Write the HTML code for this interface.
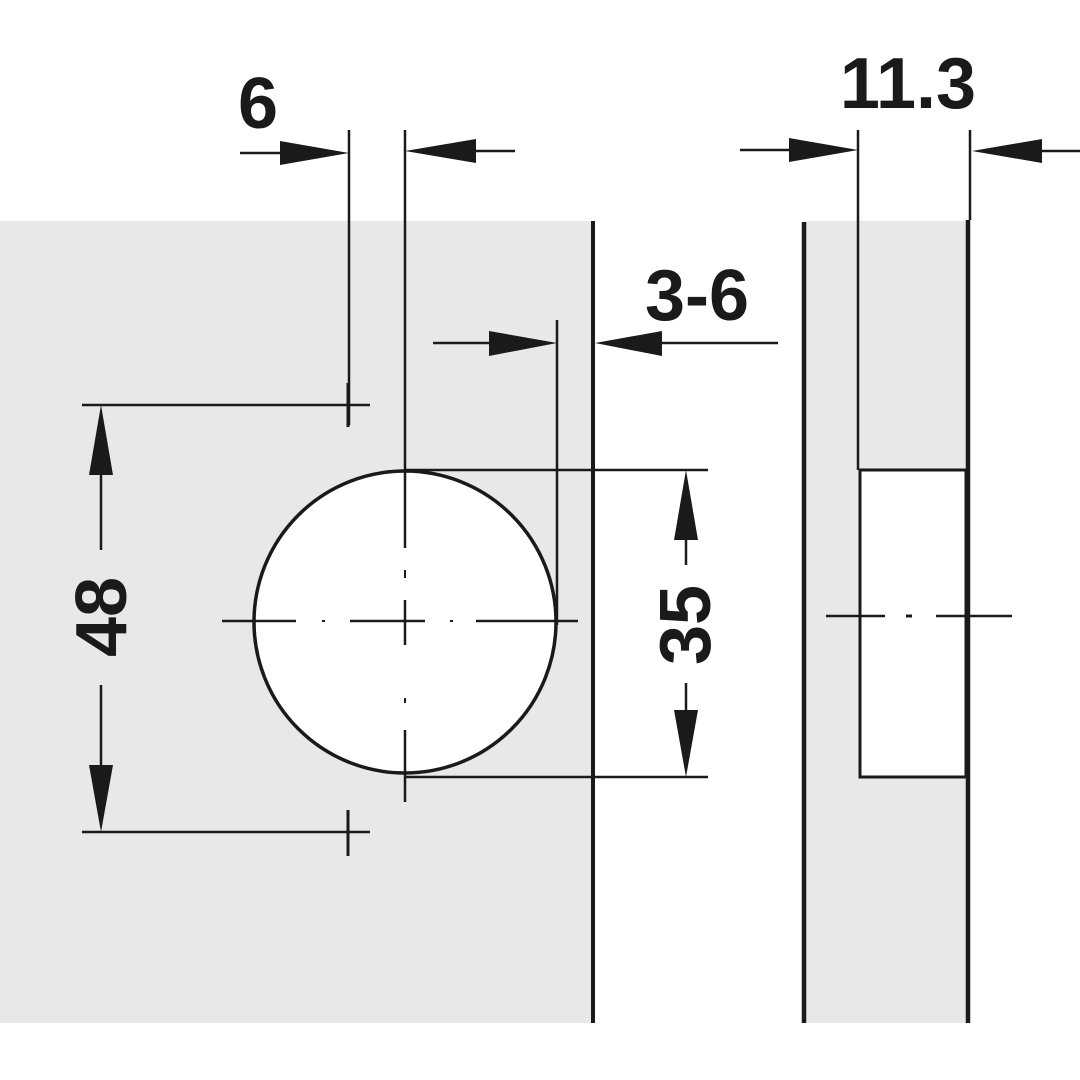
<!DOCTYPE html>
<html><head><meta charset="utf-8"><style>
html,body{margin:0;padding:0;background:#fff;}
svg{display:block}
text{font-family:"Liberation Sans",sans-serif;font-weight:bold;fill:#1a1a1a}
</style></head><body>
<svg width="1080" height="1080" viewBox="0 0 1080 1080" xmlns="http://www.w3.org/2000/svg">
<rect x="0" y="221" width="591" height="802" fill="#e8e8e8"/>
<rect x="805" y="221" width="163" height="802" fill="#e8e8e8"/>
<rect x="860" y="470" width="106" height="307" fill="#fff" stroke="#1a1a1a" stroke-width="3"/>
<circle cx="405" cy="622" r="151" fill="#fff" stroke="#1a1a1a" stroke-width="3.5"/>
<g stroke="#1a1a1a" fill="none">
<line x1="593" y1="221" x2="593" y2="1023" stroke-width="4"/>
<line x1="804" y1="222" x2="804" y2="1023" stroke-width="4.5"/>
<line x1="968" y1="220" x2="968" y2="1023" stroke-width="4.5"/>
<line x1="349" y1="130" x2="349" y2="425" stroke-width="2.5"/>
<line x1="405" y1="130" x2="405" y2="548" stroke-width="2.5"/>
<line x1="405" y1="730" x2="405" y2="802" stroke-width="2.5"/>
<line x1="405" y1="570" x2="405" y2="578" stroke-width="2"/>
<line x1="405" y1="600" x2="405" y2="645" stroke-width="2.5"/>
<line x1="405" y1="698" x2="405" y2="703" stroke-width="2"/>
<line x1="557" y1="320" x2="557" y2="625" stroke-width="2.5"/>
<line x1="858" y1="130" x2="858" y2="470" stroke-width="2.5"/>
<line x1="970" y1="130" x2="970" y2="220" stroke-width="2.5"/>
<line x1="405" y1="470" x2="708" y2="470" stroke-width="2.5"/>
<line x1="405" y1="777" x2="708" y2="777" stroke-width="2.5"/>
<line x1="82" y1="405" x2="370" y2="405" stroke-width="2.5"/>
<line x1="348" y1="383" x2="348" y2="427" stroke-width="3"/>
<line x1="82" y1="832" x2="370" y2="832" stroke-width="2.5"/>
<line x1="348" y1="810" x2="348" y2="856" stroke-width="3"/>
<line x1="222" y1="621" x2="296" y2="621" stroke-width="2.5"/>
<line x1="322" y1="621" x2="325" y2="621" stroke-width="2"/>
<line x1="350" y1="621" x2="425" y2="621" stroke-width="2.5"/>
<line x1="450" y1="621" x2="453" y2="621" stroke-width="2"/>
<line x1="476" y1="621" x2="578" y2="621" stroke-width="2.5"/>
<line x1="826" y1="616" x2="885" y2="616" stroke-width="2.5"/>
<line x1="906" y1="616" x2="912" y2="616" stroke-width="3"/>
<line x1="936" y1="616" x2="1012" y2="616" stroke-width="2.5"/>
<line x1="240" y1="153" x2="290" y2="153" stroke-width="2.5"/>
<line x1="465" y1="151" x2="515" y2="151" stroke-width="2.5"/>
<line x1="433" y1="343" x2="500" y2="343" stroke-width="2.5"/>
<line x1="650" y1="343" x2="778" y2="343" stroke-width="2.5"/>
<line x1="740" y1="150" x2="800" y2="150" stroke-width="2.5"/>
<line x1="1030" y1="151" x2="1080" y2="151" stroke-width="2.5"/>
<line x1="101" y1="470" x2="101" y2="550" stroke-width="2.5"/>
<line x1="101" y1="685" x2="101" y2="770" stroke-width="2.5"/>
<line x1="686" y1="530" x2="686" y2="565" stroke-width="2.5"/>
<line x1="686" y1="683" x2="686" y2="715" stroke-width="2.5"/>
</g>
<g fill="#1a1a1a">
<polygon points="349,153 280,141 280,165"/>
<polygon points="405,151 476,139 476,163"/>
<polygon points="557,343 489,331 489,356"/>
<polygon points="595,343 662,331 662,356"/>
<polygon points="858,150 789,138 789,162"/>
<polygon points="972,151 1042,139 1042,163"/>
<polygon points="101,405 89,475 113,475"/>
<polygon points="101,832 89,765 113,765"/>
<polygon points="686,470 674,540 698,540"/>
<polygon points="686,777 674,710 698,710"/>
</g>
<text x="258" y="128" font-size="72" text-anchor="middle">6</text>
<text x="697" y="320" font-size="72" text-anchor="middle">3-6</text>
<text x="908" y="108" font-size="72" text-anchor="middle">11.3</text>
<text transform="translate(126,617) rotate(-90)" font-size="72" text-anchor="middle">48</text>
<text transform="translate(710,625) rotate(-90)" font-size="72" text-anchor="middle">35</text>
</svg>
</body></html>
